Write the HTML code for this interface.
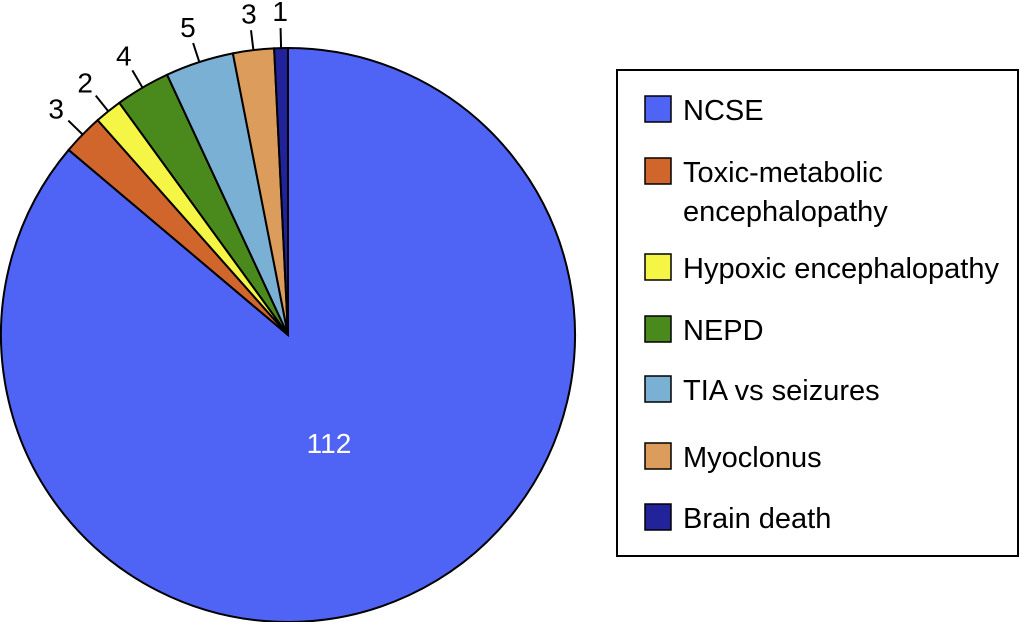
<!DOCTYPE html>
<html><head><meta charset="utf-8"><style>
body{margin:0;background:#fff;width:1024px;height:622px;overflow:hidden}
svg{font-family:"Liberation Sans",Arial,sans-serif}
</style></head><body>
<svg id="chart" width="1024" height="622">
<g id="pie"></g>
<g id="legend">
<rect x="617" y="70" width="401" height="486" fill="#fff" stroke="#000" stroke-width="2"/>
</g>
</svg>
<script>
const categories=["NCSE","Toxic-metabolic encephalopathy","Hypoxic encephalopathy","NEPD","TIA vs seizures","Myoclonus","Brain death"];
const values=[112,3,2,4,5,3,1];
const colors=["#4f63f5","#d0662c","#f5f545","#4a8a1c","#79b0d4","#db9c5c","#22229a"];
const legendLines=[["NCSE"],["Toxic-metabolic","encephalopathy"],["Hypoxic encephalopathy"],["NEPD"],["TIA vs seizures"],["Myoclonus"],["Brain death"]];
const legendY=[110,172,268,330,390,457,518];
const NS="http://www.w3.org/2000/svg";
const cx=288,cy=335,r=287;
const pie=document.getElementById('pie'),leg=document.getElementById('legend');
const total=values.reduce((a,b)=>a+b,0);
function pt(a,rr){return [cx+rr*Math.sin(a),cy-rr*Math.cos(a)];}
let a0=0;
values.forEach((v,i)=>{
  const a1=a0+v/total*2*Math.PI;
  const p0=pt(a0,r),p1=pt(a1,r);
  const path=document.createElementNS(NS,'path');
  path.setAttribute('d',`M${cx},${cy}L${p0[0]},${p0[1]}A${r},${r} 0 ${a1-a0>Math.PI?1:0} 1 ${p1[0]},${p1[1]}Z`);
  path.setAttribute('fill',colors[i]);path.setAttribute('stroke','#000');path.setAttribute('stroke-width','2');
  
  
  pie.appendChild(path);
  const m=(a0+a1)/2;
  const t=document.createElementNS(NS,'text');
  t.setAttribute('font-size','28');t.setAttribute('text-anchor','middle');
  if(i===0){
    t.setAttribute('x',cx+41);t.setAttribute('y',cy+118);t.setAttribute('fill','#fff');
  }else{
    const q0=pt(m,r),q1=pt(m,r+20);
    const l=document.createElementNS(NS,'line');
    l.setAttribute('x1',q0[0]);l.setAttribute('y1',q0[1]);l.setAttribute('x2',q1[0]);l.setAttribute('y2',q1[1]);
    l.setAttribute('stroke','#000');l.setAttribute('stroke-width','2');
    
    
    pie.appendChild(l);
    const q=pt(m,r+37);
    t.setAttribute('x',q[0]);t.setAttribute('y',q[1]+10);
  }
  t.textContent=values[i];
  
  
  pie.appendChild(t);
  a0=a1;
});
categories.forEach((c,i)=>{
  const y=legendY[i];
  const s=document.createElementNS(NS,'rect');
  s.setAttribute('x',645);s.setAttribute('y',y-14);s.setAttribute('width',26);s.setAttribute('height',26);
  s.setAttribute('fill',colors[i]);s.setAttribute('stroke','#000');s.setAttribute('stroke-width','1.5');
  
  
  leg.appendChild(s);
  legendLines[i].forEach((ln,j)=>{
    const t=document.createElementNS(NS,'text');
    t.setAttribute('x',683);t.setAttribute('y',y+10+j*39);t.setAttribute('font-size','29');
    t.textContent=ln;
    
    
    leg.appendChild(t);
  });
});
</script>
</body></html>
